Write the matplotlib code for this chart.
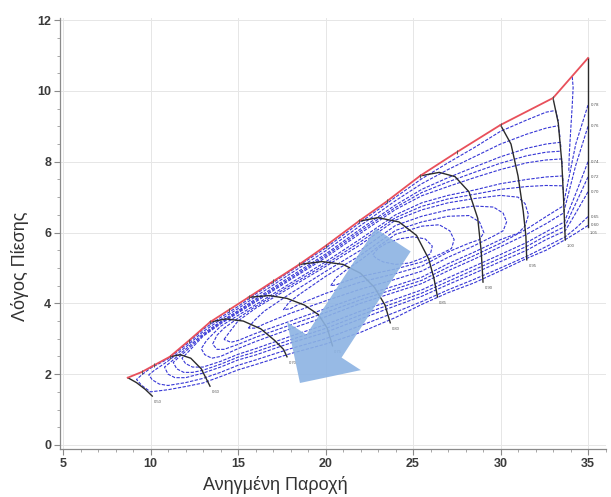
import numpy as np
import matplotlib
matplotlib.use("Agg")
import matplotlib.pyplot as plt
from matplotlib.patches import Polygon
from matplotlib.ticker import MultipleLocator
from matplotlib.transforms import IdentityTransform

# ---------------- data ----------------
X_TICKS = [5, 10, 15, 20, 25, 30, 35]
Y_TICKS = [0, 2, 4, 6, 8, 10, 12]
X_LABEL = "Ανηγμένη Παροχή"
Y_LABEL = "Λόγος Πίεσης"

# surge line (red)
SURGE_X = [8.7, 9.5, 10.2, 11.1, 12.2, 13.4, 14.5, 15.6, 17.0, 18.5, 20.0, 21.9, 23.5, 25.4, 27.5, 30.0, 33.0, 35.0]
SURGE_Y = [1.9, 2.06, 2.25, 2.49, 2.95, 3.47, 3.82, 4.17, 4.62, 5.1, 5.62, 6.32, 6.88, 7.6, 8.27, 9.04, 9.8, 10.93]

# speed lines (black)
SPEED_1 = [(8.7, 1.9), (9.2, 1.76), (9.7, 1.57), (10.1, 1.38)]
SPEED_2 = [(11.1, 2.49), (11.7, 2.55), (12.3, 2.45), (12.9, 2.15), (13.4, 1.66)]
SPEED_3 = [(13.4, 3.47), (14.3, 3.56), (15.3, 3.5), (16.3, 3.28), (17.1, 2.95), (17.6, 2.7), (17.8, 2.49)]
SPEED_4 = [(15.6, 4.17), (16.8, 4.22), (17.8, 4.14), (18.8, 3.95), (19.6, 3.68), (20.1, 3.3), (20.4, 2.8)]
SPEED_5 = [(18.5, 5.1), (19.8, 5.18), (21.0, 5.1), (22.0, 4.85), (22.8, 4.45), (23.4, 3.95), (23.7, 3.45)]
SPEED_6 = [(21.9, 6.32), (23.0, 6.42), (24.2, 6.3), (25.2, 5.92), (25.9, 5.25), (26.2, 4.7), (26.4, 4.18)]
SPEED_7 = [(25.4, 7.6), (26.5, 7.7), (27.4, 7.58), (28.2, 7.15), (28.7, 6.4), (28.9, 5.45), (29.0, 4.6)]
SPEED_8 = [(30.0, 9.04), (30.6, 8.5), (31.0, 7.6), (31.3, 6.6), (31.45, 5.9), (31.5, 5.23)]
SPEED_9 = [(33.0, 9.8), (33.3, 9.1), (33.5, 8.0), (33.6, 7.0), (33.7, 5.79)]
SPEED_10 = [(35.0, 10.93), (35.0, 8.5), (35.0, 6.16)]
SPEED_LABELS = ["0.50", "0.60", "0.70", "0.75", "0.80", "0.85", "0.90", "0.95", "1.00", "1.05"]

# efficiency contours (blue dashed)
EFF_0 = [(34.1, 10.4), (34.15, 10.1), (34.1, 9.6), (34.0, 8.8), (33.93, 8.2), (33.9, 7.7)]
EFF_1 = [(35.0, 6.2), (34.3, 5.98), (33.7, 5.8), (32.6, 5.5), (31.5, 5.27), (30.0, 4.92), (28.5, 4.58),
         (27.0, 4.3), (25.5, 3.97), (24.0, 3.6), (22.0, 3.18), (20.0, 2.85), (18.0, 2.58), (16.0, 2.27),
         (15.0, 2.12), (14.0, 1.93), (13.0, 1.75), (12.0, 1.65), (11.0, 1.56), (10.0, 1.5), (9.5, 1.68),
         (9.2, 1.85), (9.5, 1.98), (10.0, 2.17), (11.0, 2.43), (12.0, 2.82), (13.0, 3.26), (14.0, 3.6),
         (15.0, 3.91), (16.0, 4.26), (18.0, 4.91), (20.0, 5.56), (22.0, 6.29), (24.0, 7.0), (25.5, 7.52),
         (27.0, 7.97), (28.5, 8.4), (30.0, 8.86), (31.5, 9.18), (32.6, 9.4), (33.15, 9.45), (33.3, 9.15)]
EFF_2 = [(35.0, 6.45), (34.3, 6.12), (33.7, 5.88), (32.6, 5.6), (31.5, 5.33), (30.0, 5.0), (28.5, 4.68),
         (27.0, 4.38), (25.5, 4.05), (24.0, 3.75), (22.0, 3.37), (20.0, 3.0), (18.0, 2.72), (16.0, 2.4),
         (15.0, 2.25), (14.0, 2.05), (13.0, 1.88), (12.0, 1.76), (11.0, 1.68), (10.5, 1.72), (10.1, 1.84),
         (9.9, 1.98), (10.2, 2.1), (11.0, 2.37), (12.0, 2.76), (13.0, 3.2), (14.0, 3.54), (15.0, 3.85),
         (16.0, 4.19), (18.0, 4.84), (20.0, 5.48), (22.0, 6.2), (24.0, 6.9), (25.5, 7.38), (27.0, 7.78),
         (28.5, 8.14), (30.0, 8.5), (31.5, 8.78), (32.6, 8.95), (33.3, 9.02), (33.4, 8.7)]
EFF_3 = [(35.0, 7.15), (34.3, 6.55), (33.7, 6.05), (32.6, 5.8), (31.5, 5.5), (30.0, 5.18), (28.5, 4.85),
         (27.0, 4.53), (25.5, 4.2), (24.0, 3.93), (22.0, 3.56), (20.0, 3.18), (18.0, 2.88), (16.0, 2.54),
         (15.0, 2.4), (14.0, 2.2), (13.0, 2.03), (12.0, 1.9), (11.4, 1.9), (11.0, 2.0), (10.8, 2.2),
         (11.1, 2.32), (12.0, 2.7), (13.0, 3.14), (14.0, 3.48), (15.0, 3.79), (16.0, 4.12), (18.0, 4.76),
         (20.0, 5.39), (22.0, 6.1), (24.0, 6.78), (25.5, 7.22), (27.0, 7.55), (28.5, 7.85), (30.0, 8.14),
         (31.5, 8.38), (32.6, 8.5), (33.42, 8.55), (33.45, 8.42)]
EFF_3B = [(35.0, 7.57), (34.3, 6.82), (33.68, 6.17), (32.6, 5.91), (31.5, 5.61), (30.0, 5.28), (28.5, 4.95),
          (27.0, 4.62), (25.5, 4.29), (24.0, 4.02), (22.0, 3.67), (20.0, 3.29), (18.0, 2.97), (16.0, 2.63),
          (15.0, 2.48), (14.0, 2.28), (13.0, 2.11), (12.4, 2.05), (11.9, 2.05), (11.5, 2.15), (11.3, 2.33),
          (11.6, 2.47), (12.0, 2.64), (13.0, 3.1), (14.0, 3.45), (15.0, 3.76), (16.0, 4.08), (18.0, 4.71),
          (20.0, 5.34), (22.0, 6.04), (24.0, 6.71), (25.5, 7.13), (27.0, 7.43), (28.5, 7.7), (30.0, 7.96),
          (31.5, 8.17), (32.6, 8.27), (33.46, 8.3)]
EFF_4 = [(35.0, 8.0), (34.3, 7.1), (33.65, 6.3), (32.6, 6.02), (31.5, 5.72), (30.0, 5.38), (28.5, 5.05),
         (27.0, 4.72), (25.5, 4.38), (24.0, 4.12), (22.0, 3.78), (20.0, 3.4), (18.0, 3.07), (16.0, 2.72),
         (15.0, 2.56), (14.0, 2.36), (13.0, 2.2), (12.4, 2.2), (12.0, 2.3), (11.8, 2.45), (12.1, 2.6),
         (13.0, 3.07), (14.0, 3.42), (15.0, 3.73), (16.0, 4.04), (18.0, 4.67), (20.0, 5.29), (22.0, 5.98),
         (24.0, 6.65), (25.5, 7.04), (27.0, 7.3), (28.5, 7.55), (30.0, 7.78), (31.5, 7.97), (32.6, 8.05),
         (33.5, 8.08), (33.53, 7.85)]
EFF_5 = [(35.0, 9.0), (34.3, 7.9), (33.6, 6.55), (32.6, 6.25), (31.5, 5.95), (30.0, 5.6), (28.5, 5.25),
         (27.0, 4.92), (25.5, 4.56), (24.0, 4.32), (22.0, 4.0), (20.0, 3.62), (18.0, 3.28), (16.0, 2.92),
         (15.0, 2.72), (14.0, 2.5), (13.5, 2.45), (13.1, 2.55), (12.9, 2.72), (13.2, 2.95), (14.0, 3.35),
         (15.0, 3.66), (16.0, 3.96), (18.0, 4.57), (20.0, 5.17), (22.0, 5.82), (24.0, 6.5), (25.5, 6.84),
         (27.0, 7.05), (28.5, 7.2), (30.0, 7.38), (31.5, 7.5), (32.6, 7.57), (33.55, 7.6), (33.58, 7.4)]
EFF_5B = [(35.0, 9.6), (34.3, 8.5), (33.58, 6.75), (32.6, 6.45), (31.5, 6.1), (30.0, 5.7), (28.5, 5.35),
          (27.0, 5.02), (25.5, 4.65), (24.0, 4.41), (22.0, 4.1), (20.0, 3.74), (18.0, 3.39), (16.0, 3.04),
          (15.0, 2.84), (14.2, 2.7), (13.8, 2.7), (13.55, 2.85), (13.8, 3.1), (14.2, 3.3), (15.0, 3.58),
          (16.0, 3.91), (18.0, 4.51), (20.0, 5.1), (22.0, 5.74), (24.0, 6.42), (25.5, 6.74), (27.0, 6.95),
          (28.5, 7.08), (30.0, 7.22), (31.5, 7.3), (32.6, 7.33), (33.56, 7.32), (33.6, 7.1)]
EFF_6 = [(14.2, 2.98), (14.5, 3.18), (15.0, 3.5), (16.0, 3.86), (18.0, 4.45), (20.0, 5.04), (22.0, 5.66),
         (24.0, 6.35), (25.5, 6.64), (27.0, 6.84), (28.5, 6.96), (30.0, 7.05), (31.0, 7.0), (31.4, 6.82),
         (31.6, 6.5), (31.4, 6.18), (31.0, 5.98), (30.0, 5.8), (28.5, 5.45), (27.0, 5.12), (25.5, 4.74),
         (24.0, 4.5), (22.0, 4.2), (20.0, 3.85), (18.0, 3.5), (16.0, 3.15), (15.0, 2.95), (14.6, 2.9),
         (14.2, 2.98)]
EFF_7 = [(15.6, 3.3), (15.9, 3.5), (16.5, 3.78), (18.0, 4.28), (20.0, 4.9), (22.0, 5.5), (24.0, 6.2),
         (25.5, 6.46), (27.0, 6.64), (28.5, 6.75), (29.6, 6.72), (30.15, 6.55), (30.35, 6.3), (30.15, 6.05),
         (29.6, 5.9), (28.5, 5.63), (27.0, 5.3), (25.5, 4.91), (24.0, 4.68), (22.0, 4.4), (20.0, 4.07),
         (18.0, 3.72), (16.5, 3.42), (16.0, 3.3), (15.6, 3.3)]
EFF_8 = [(17.6, 3.82), (17.9, 4.02), (18.5, 4.25), (20.0, 4.76), (22.0, 5.36), (24.0, 6.06), (25.5, 6.3),
         (27.0, 6.46), (28.2, 6.48), (28.8, 6.3), (29.05, 6.0), (28.8, 5.8), (28.2, 5.7), (27.0, 5.45),
         (25.5, 5.05), (24.0, 4.84), (22.0, 4.6), (20.0, 4.28), (18.5, 3.98), (18.0, 3.85), (17.6, 3.82)]
EFF_9 = [(20.3, 4.5), (20.6, 4.72), (21.2, 4.95), (22.0, 5.22), (23.0, 5.6), (24.0, 5.95), (25.5, 6.18),
         (26.5, 6.22), (27.1, 6.05), (27.35, 5.8), (27.2, 5.55), (26.6, 5.4), (25.5, 5.17), (24.0, 4.97),
         (22.0, 4.76), (21.0, 4.6), (20.6, 4.52), (20.3, 4.5)]
EFF_10 = [(22.7, 5.37), (23.0, 5.55), (23.5, 5.7), (24.2, 5.82), (25.0, 5.88), (25.7, 5.82), (26.1, 5.62),
          (26.0, 5.4), (25.5, 5.27), (24.8, 5.14), (24.0, 5.1), (23.3, 5.17), (22.9, 5.27), (22.7, 5.37)]

# labels of the efficiency lines that end on the highest speed line
EFF_END_LABELS = ["0.60", "0.65", "0.70", "0.72", "0.74", "0.76", "0.78"]

# arrow annotation (start at top, tip at bottom-left), data units
ARROW_START = (23.86, 5.79)
ARROW_END = (18.54, 1.75)

SPEED_LINES = [SPEED_1, SPEED_2, SPEED_3, SPEED_4, SPEED_5, SPEED_6, SPEED_7, SPEED_8, SPEED_9, SPEED_10]
EFF_LINES = [EFF_0, EFF_1, EFF_2, EFF_3, EFF_3B, EFF_4, EFF_5, EFF_5B, EFF_6, EFF_7, EFF_8, EFF_9, EFF_10]
EFF_FAN = [EFF_1, EFF_2, EFF_3, EFF_3B, EFF_4, EFF_5, EFF_5B]

# ---------------- figure ----------------
plt.rcParams["font.family"] = ["Liberation Sans", "DejaVu Sans"]
fig = plt.figure(figsize=(6.11, 4.97), dpi=100)
ax = fig.add_axes([0.0974, 0.0962, 0.8936, 0.8668])
ax.set_xlim(4.8, 36.0)
ax.set_ylim(-0.12, 12.05)

ax.set_xticks(X_TICKS)
ax.set_yticks(Y_TICKS)
ax.xaxis.set_minor_locator(MultipleLocator(1))
ax.yaxis.set_minor_locator(MultipleLocator(0.5))
ax.grid(True, which="major", color="#e6e6e6", lw=0.7)
ax.set_axisbelow(True)
for s in ["top", "right"]:
    ax.spines[s].set_visible(False)
for s in ["left", "bottom"]:
    ax.spines[s].set_color("#8a8a8a")
    ax.spines[s].set_linewidth(0.9)
ax.tick_params(which="major", length=4, width=0.8, color="#8a8a8a", labelsize=9,
               labelcolor="#3a3a3a", pad=2)
ax.tick_params(which="minor", length=2.5, width=0.6, color="#9a9a9a")
for lbl in ax.get_xticklabels() + ax.get_yticklabels():
    lbl.set_fontweight("bold")

# efficiency contours
for pts in EFF_LINES:
    arr = np.array(pts)
    ax.plot(arr[:, 0], arr[:, 1], color="#3636d6", lw=0.8, ls=(0, (3.0, 1.3)), zorder=2)
for pts, txt in zip(EFF_FAN, EFF_END_LABELS):
    ax.text(pts[0][0] + 0.18, pts[0][1], txt, fontsize=3.2, color="#555555",
            ha="left", va="center", zorder=4)

# speed lines
for pts, txt in zip(SPEED_LINES, SPEED_LABELS):
    arr = np.array(pts)
    ax.plot(arr[:, 0], arr[:, 1], color="#2b2b2b", lw=1.0, zorder=3)
    ax.text(arr[-1, 0] + 0.1, arr[-1, 1] - 0.12, txt, fontsize=3.0, color="#555555",
            ha="left", va="top", zorder=4)

# surge line
ax.plot(SURGE_X, SURGE_Y, color="#e8505b", lw=1.3, zorder=4)
ax.plot(SURGE_X[1:-1], SURGE_Y[1:-1], ls="none", marker="|", ms=3, mew=0.7, color="#555555", zorder=4)

# big translucent arrow
p0 = ax.transData.transform(ARROW_START)
p1 = ax.transData.transform(ARROW_END)
vec = p1 - p0
d = vec / np.hypot(*vec)
n = np.array([-d[1], d[0]])
head_len, w_shaft, w_head = 44.0, 21.0, 44.0
base = p1 - d * head_len
poly = np.array([p0 + n * w_shaft, base + n * w_shaft, base + n * w_head, p1,
                 base - n * w_head, base - n * w_shaft, p0 - n * w_shaft])
ax.add_patch(Polygon(poly, closed=True, transform=IdentityTransform(), facecolor="#8cb3e3",
                     edgecolor="none", alpha=0.9, zorder=6))

ax.set_xlabel(X_LABEL, fontsize=13, color="#333333")
ax.set_ylabel(Y_LABEL, fontsize=13, color="#333333")
ax.xaxis.label.set_va("center")
ax.yaxis.label.set_va("center")
ax.xaxis.set_label_coords(0.395, -0.083)
ax.yaxis.set_label_coords(-0.072, 0.425)

fig.savefig("out.png", dpi=100)
